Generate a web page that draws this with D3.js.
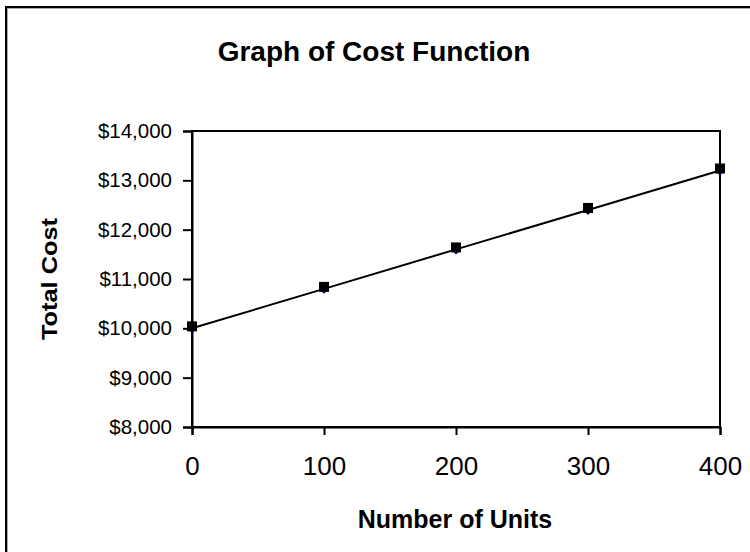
<!DOCTYPE html>
<html><head><meta charset="utf-8">
<script src="https://cdn.jsdelivr.net/npm/d3@7"></script>
<style>body{margin:0;background:#fff}svg{display:block}text{font-family:Arial,"Liberation Sans",sans-serif}</style>
</head><body><svg width="750" height="552"></svg>
<script>
const units = [0, 100, 200, 300, 400];
const totalCost = [10000, 10800, 11600, 12400, 13200];
const costMarkers = [10040, 10840, 11640, 12440, 13240];
const yTicks = [8000, 9000, 10000, 11000, 12000, 13000, 14000];
const xTicks = [0, 100, 200, 300, 400];

const svg = d3.select("svg");
// outer border (right/bottom beyond view)
svg.append("rect").attr("x", 7).attr("y", 8).attr("width", 800).attr("height", 600)
  .attr("fill", "none").attr("stroke", "#aaa").attr("stroke-width", 2);
svg.append("rect").attr("x", 6).attr("y", 7).attr("width", 800).attr("height", 600)
  .attr("fill", "none").attr("stroke", "#000").attr("stroke-width", 2);

const L = 192, R = 720, T = 131, B = 427;
const x = d3.scaleLinear().domain([0, 400]).range([L, R]);
const y = d3.scaleLinear().domain([8000, 14000]).range([B, T]);

// plot box
svg.append("rect").attr("x", L).attr("y", T).attr("width", R - L).attr("height", B - T)
  .attr("fill", "none").attr("stroke", "#000").attr("stroke-width", 2);

const yAxis = svg.append("g").attr("transform", `translate(${L},0)`)
  .call(d3.axisLeft(y).tickValues(yTicks).tickSize(9).tickPadding(11)
    .tickFormat(d => "$" + d3.format(",")(d)));
const xAxis = svg.append("g").attr("transform", `translate(0,${B})`)
  .call(d3.axisBottom(x).tickValues(xTicks).tickSize(8).tickPadding(22));
[yAxis, xAxis].forEach(a => {
  a.select(".domain").attr("stroke", "#000").attr("stroke-width", 2);
  a.selectAll(".tick line").attr("stroke", "#000").attr("stroke-width", 2);
  a.selectAll("text").attr("fill", "#000")
    .style("font-family", "Arial, 'Liberation Sans', sans-serif");
});
yAxis.selectAll("text").attr("font-size", 20.5);
xAxis.selectAll("text").attr("font-size", 26);

// line
svg.append("path").datum(units.map((u, i) => [u, totalCost[i]]))
  .attr("d", d3.line().x(d => x(d[0])).y(d => y(d[1])))
  .attr("fill", "none").attr("stroke", "#000").attr("stroke-width", 2);

// diamonds
svg.selectAll(".dia").data(units.map((u, i) => [u, totalCost[i]])).enter().append("path")
  .attr("transform", d => `translate(${x(d[0])},${y(d[1])})`)
  .attr("d", "M0,-5L5,0L0,5L-5,0Z").attr("fill", "#000080");
// squares
svg.selectAll(".sq").data(units.map((u, i) => [u, costMarkers[i]])).enter().append("rect")
  .attr("x", d => x(d[0]) - 5).attr("y", d => y(d[1]) - 5)
  .attr("width", 10).attr("height", 10).attr("fill", "#000");

svg.append("text").attr("x", 374).attr("y", 61).attr("text-anchor", "middle")
  .attr("font-size", 28).attr("font-weight", "bold").text("Graph of Cost Function");
svg.append("text").attr("x", 455).attr("y", 528).attr("text-anchor", "middle")
  .attr("font-size", 25).attr("font-weight", "bold").text("Number of Units");
svg.append("text").attr("transform", "translate(57,279) rotate(-90)").attr("text-anchor", "middle")
  .attr("font-size", 22).attr("font-weight", "bold")
  .attr("textLength", 122).attr("lengthAdjust", "spacingAndGlyphs").text("Total Cost");
</script></body></html>
